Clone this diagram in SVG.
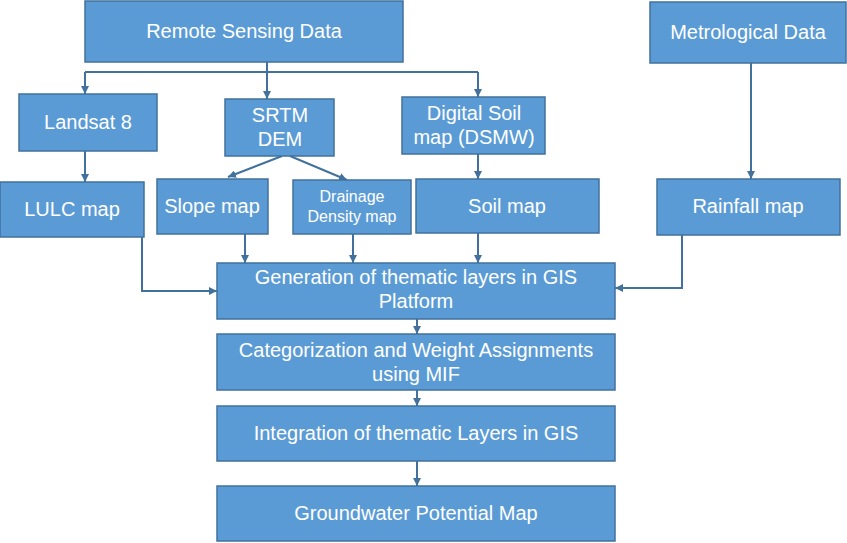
<svg xmlns="http://www.w3.org/2000/svg" width="847" height="543" viewBox="0 0 847 543">
<defs>
<style>
.box{fill:#5b9bd5;stroke:#41719c;stroke-width:1.5}
.t{fill:#ffffff;font-family:"Liberation Sans",Arial,sans-serif;font-size:20px;text-anchor:middle}
.s{font-size:16px}
.c{fill:none;stroke:#41719c;stroke-width:2}
</style>
<marker id="ah" viewBox="0 0 8 8" refX="8" refY="4" markerWidth="8" markerHeight="8" markerUnits="userSpaceOnUse" orient="auto">
<path d="M0,0 L8,4 L0,8 z" fill="#41719c"/>
</marker>
</defs>
<rect width="847" height="543" fill="#ffffff"/>
<g id="connectors">
<path class="c" d="M85,72 H478"/>
<path class="c" d="M267,62 V99" marker-end="url(#ah)"/>
<path class="c" d="M85,72 V94" marker-end="url(#ah)"/>
<path class="c" d="M478,72 V97" marker-end="url(#ah)"/>
<path class="c" d="M85,151 V182" marker-end="url(#ah)"/>
<path class="c" d="M282,156 L228,177" marker-end="url(#ah)"/>
<path class="c" d="M290,156 L347,180" marker-end="url(#ah)"/>
<path class="c" d="M478,154 V179" marker-end="url(#ah)"/>
<path class="c" d="M751,63 V179" marker-end="url(#ah)"/>
<path class="c" d="M142,237 V291 H217" marker-end="url(#ah)"/>
<path class="c" d="M245,234 V263" marker-end="url(#ah)"/>
<path class="c" d="M353,234 V263" marker-end="url(#ah)"/>
<path class="c" d="M478,233 V263" marker-end="url(#ah)"/>
<path class="c" d="M682,235 V288 H615" marker-end="url(#ah)"/>
<path class="c" d="M417,319 V334" marker-end="url(#ah)"/>
<path class="c" d="M417,390 V406" marker-end="url(#ah)"/>
<path class="c" d="M417,461 V486" marker-end="url(#ah)"/>
</g>
<g id="remote"><rect class="box" x="85" y="1" width="318" height="61"/><text class="t" x="244" y="38">Remote Sensing Data</text></g>
<g id="metro"><rect class="box" x="650" y="2" width="196" height="61"/><text class="t" x="748" y="39">Metrological Data</text></g>
<g id="landsat"><rect class="box" x="19" y="94" width="138" height="57"/><text class="t" x="88" y="129">Landsat 8</text></g>
<g id="srtm"><rect class="box" x="225" y="99" width="109" height="57"/><text class="t" x="280" y="122">SRTM</text><text class="t" x="280" y="146">DEM</text></g>
<g id="dsmw"><rect class="box" x="402" y="97" width="143" height="57"/><text class="t" x="474" y="120">Digital Soil</text><text class="t" x="474" y="144">map (DSMW)</text></g>
<g id="lulc"><rect class="box" x="0" y="182" width="144" height="55"/><text class="t" x="72" y="216">LULC map</text></g>
<g id="slope"><rect class="box" x="157" y="179" width="111" height="55"/><text class="t" x="212" y="213">Slope map</text></g>
<g id="drainage"><rect class="box" x="293" y="180" width="118" height="54"/><text class="t s" x="352" y="202">Drainage</text><text class="t s" x="352" y="222">Density map</text></g>
<g id="soil"><rect class="box" x="416" y="179" width="183" height="54"/><text class="t" x="507" y="213">Soil map</text></g>
<g id="rainfall"><rect class="box" x="657" y="179" width="183" height="56"/><text class="t" x="748" y="213">Rainfall map</text></g>
<g id="generation"><rect class="box" x="217" y="263" width="398" height="56"/><text class="t" x="416" y="284">Generation of thematic layers in GIS</text><text class="t" x="416" y="308">Platform</text></g>
<g id="categorization"><rect class="box" x="217" y="334" width="398" height="56"/><text class="t" x="416" y="357">Categorization and Weight Assignments</text><text class="t" x="416" y="381">using MIF</text></g>
<g id="integration"><rect class="box" x="217" y="406" width="398" height="55"/><text class="t" x="416" y="440">Integration of thematic Layers in GIS</text></g>
<g id="groundwater"><rect class="box" x="217" y="486" width="398" height="55"/><text class="t" x="416" y="520">Groundwater Potential Map</text></g>
</svg>
